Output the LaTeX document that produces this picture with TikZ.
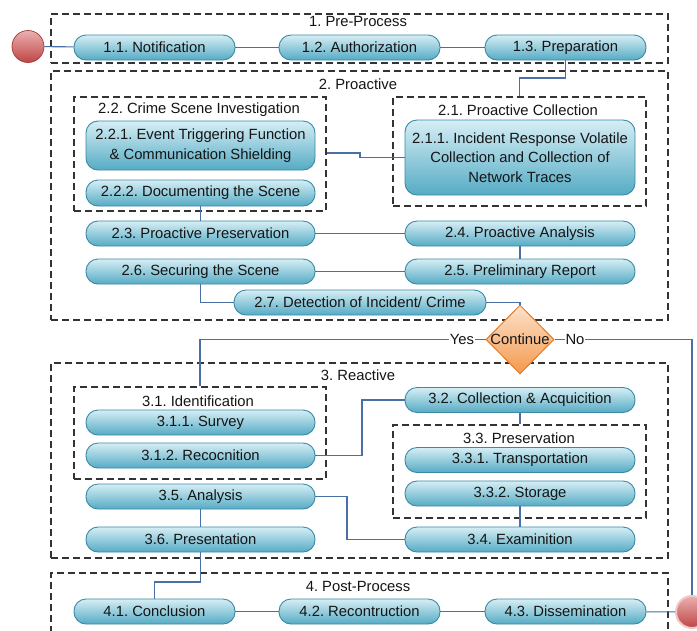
\documentclass[tikz,border=0pt]{standalone}
\usepackage{fontspec}
\setmainfont{Liberation Sans}
\usetikzlibrary{shapes.geometric}
\definecolor{ntop}{HTML}{D6EEF5}
\definecolor{nbot}{HTML}{55ABC4}
\definecolor{nbord}{HTML}{3A8AA5}
\definecolor{conncol}{HTML}{4A6FA5}
\definecolor{gcol}{HTML}{333333}
\definecolor{dtop}{HTML}{FDE2CC}
\definecolor{dbot}{HTML}{F3994C}
\definecolor{dbord}{HTML}{E57B26}
\definecolor{ctop}{HTML}{EBB0B0}
\definecolor{cbot}{HTML}{BF4545}
\definecolor{cbord}{HTML}{A33838}
\definecolor{txt}{HTML}{151515}
\frenchspacing
\tikzset{
  proc/.style={draw=nbord, line width=0.9pt, rounded corners=12pt, top color=ntop, bottom color=nbot,
    minimum height=25pt, inner sep=0pt, align=center, text=txt,
    font=\fontsize{14.8}{19.5}\selectfont},
  grp/.style={draw=gcol, line width=1.1pt, dash pattern=on 7pt off 4pt, inner sep=0pt},
  ttl/.style={text=txt, inner sep=0pt, font=\fontsize{14.8}{19.5}\selectfont},
  conn/.style={draw=conncol, line width=1.1pt},
  lbl/.style={fill=white, text=txt, inner sep=1pt, font=\fontsize{14.8}{19.5}\selectfont},
  dia/.style={diamond, draw=dbord, line width=1pt, top color=dtop, bottom color=dbot, inner sep=0pt,
    minimum width=68pt, minimum height=69pt},
  startc/.style={circle, draw=cbord, line width=0.7pt, top color=ctop, bottom color=cbot, minimum size=32pt, inner sep=0pt},
  endc/.style={circle, draw=ctop!70!white, line width=2pt, top color=ctop, bottom color=cbot, minimum size=32pt, inner sep=0pt}
}
\begin{document}
\begin{tikzpicture}[x=1pt,y=-1pt]
\useasboundingbox (0,0) rectangle (697,630);
\fill[white] (0,0) rectangle (697,630);
\begin{scope}
\clip (0,0) rectangle (697,630);
% groups
\node[grp, minimum width=617pt, minimum height=49pt] (g1) at (359.5,38.5) {};
\node[grp, minimum width=617pt, minimum height=249pt] (g2) at (359.5,195.5) {};
\node[grp, minimum width=252pt, minimum height=114pt] (g22) at (200,154) {};
\node[grp, minimum width=253pt, minimum height=109pt] (g21) at (519.5,151.5) {};
\node[grp, minimum width=617pt, minimum height=195pt] (g3) at (359.5,460.5) {};
\node[grp, minimum width=252pt, minimum height=92pt] (g31) at (200,433) {};
\node[grp, minimum width=253pt, minimum height=93pt] (g33) at (519.5,471.5) {};
\node[grp, minimum width=617pt, minimum height=77pt] (g4) at (359.5,611.5) {};
\end{scope}
% titles
\node[ttl] (t1) at (358,21) {1. Pre-Process};
\node[ttl] (t2) at (358,84) {2. Proactive};
\node[ttl] (t22) at (199,110) {2.2. Crime Scene Investigation};
\node[ttl] (t21) at (518,110) {2.1. Proactive Collection};
\node[ttl] (t3) at (358,375) {3. Reactive};
\node[ttl] (t31) at (198,401) {3.1. Identification};
\node[ttl] (t33) at (519,438) {3.3. Preservation};
\node[ttl] (t4) at (358,586) {4. Post-Process};
% nodes
\node[startc] (s) at (28,46.5) {};
\node[proc, minimum width=161pt] (n11) at (154.5,47.5) {1.1. Notification};
\node[proc, minimum width=161pt] (n12) at (359.5,47.5) {1.2. Authorization};
\node[proc, minimum width=161pt] (n13) at (565.5,47.5) {1.3. Preparation};
\node[proc, minimum width=229pt, minimum height=49pt] (n221) at (200.5,145.5) {2.2.1. Event Triggering Function\\\& Communication Shielding};
\node[proc, minimum width=229pt, minimum height=26pt] (n222) at (200.5,193) {2.2.2. Documenting the Scene};
\node[proc, minimum width=230pt, minimum height=75pt] (n211) at (520,157.5) {2.1.1. Incident Response Volatile\\Collection and Collection of\\Network Traces};
\node[proc, minimum width=229pt] (n23) at (200.5,233.5) {2.3. Proactive Preservation};
\node[proc, minimum width=230pt] (n24) at (520,233.5) {2.4. Proactive Analysis};
\node[proc, minimum width=229pt] (n26) at (200.5,271.5) {2.6. Securing the Scene};
\node[proc, minimum width=230pt] (n25) at (520,271.5) {2.5. Preliminary Report};
\node[proc, minimum width=252pt] (n27) at (360,302.5) {2.7. Detection of Incident/ Crime};
\node[proc, minimum width=229pt] (n311) at (200.5,422.5) {3.1.1. Survey};
\node[proc, minimum width=229pt] (n312) at (200.5,455.5) {3.1.2. Recocnition};
\node[proc, minimum width=229pt] (n35) at (200.5,496.5) {3.5. Analysis};
\node[proc, minimum width=229pt] (n36) at (200.5,539.5) {3.6. Presentation};
\node[proc, minimum width=230pt] (n32) at (520,400) {3.2. Collection \& Acquicition};
\node[proc, minimum width=230pt] (n331) at (520,460) {3.3.1. Transportation};
\node[proc, minimum width=230pt] (n332) at (520,493.5) {3.3.2. Storage};
\node[proc, minimum width=230pt] (n34) at (520,539.5) {3.4. Examinition};
\node[proc, minimum width=161pt] (n41) at (154.5,611.5) {4.1. Conclusion};
\node[proc, minimum width=161pt] (n42) at (359.5,611.5) {4.2. Recontruction};
\node[proc, minimum width=161pt] (n43) at (565.5,611.5) {4.3. Dissemination};
\node[endc] (e) at (692,612) {};
% connectors
\draw[conn] (s) -- (n11);
\draw[conn] (n11) -- (n12);
\draw[conn] (n12) -- (n13);
\draw[conn] (n13.south) |- (g21.north |- 0,78) -- (g21.north);
\draw[conn] (g22.east |- 0,153) -- (360,153) -- (360,157.5) -- (n211.west);
\draw[conn] (n222.south) -- (n23.north);
\draw[conn] (n23) -- (n24);
\draw[conn] (n24) -- (n25);
\draw[conn] (n25) -- (n26);
\draw[conn] (n26.south) |- (n27.west);
\draw[conn] (n312.east) -- (362,455.5) |- (n32.west);
\draw[conn] (n32.south) -- (g33.north -| n32.south);
\draw[conn] (n332.south) -- (n34.north);
\draw[conn] (n35.east) -- (347,496.5) |- (n34.west);
\draw[conn] (n35.south) -- (n36.north);
\draw[conn] (n36.south) |- (n41.north |- 0,582) -- (n41.north);
\draw[conn] (n41) -- (n42);
\draw[conn] (n42) -- (n43);
\draw[conn] (n43) -- (e);
% decision
\node[dia] (d) at (520,339.5) {};
\draw[conn] (n27.east) -| (d.north);
\draw[conn] (d.west) -| (g31.north);
\draw[conn] (d.east) -| (e.north);
\node[text=txt, inner sep=0pt, font=\fontsize{14.8}{19.5}\selectfont] (dtext) at (520,339.5) {Continue};
\node[lbl] (yes) at (462,339.5) {Yes};
\node[lbl] (no) at (575,339.5) {No};
\end{tikzpicture}
\end{document}
